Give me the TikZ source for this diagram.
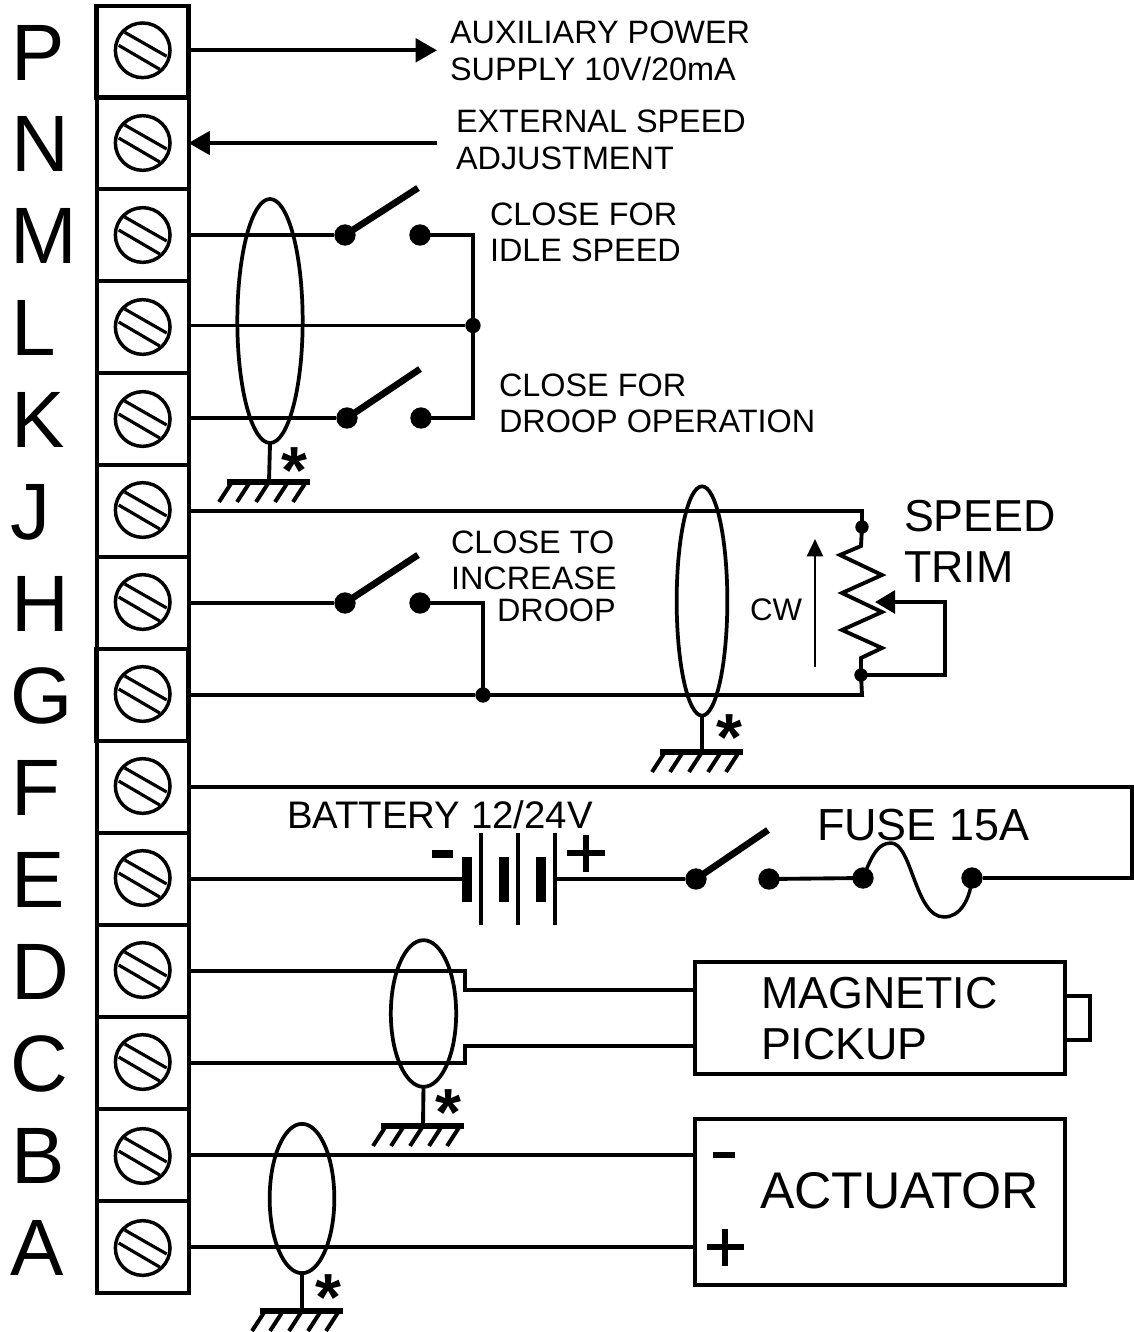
\documentclass[tikz,border=0pt]{standalone}
\usepackage{fontspec}
\setmainfont{Liberation Sans}
\usetikzlibrary{shapes.geometric,arrows.meta,calc}
\tikzset{
  px/.style={x=0.75pt,y=-0.75pt},
  wire/.style={line width=2.9pt,line cap=butt,line join=miter},
  thinw/.style={line width=2.6pt},
  term/.style={draw,line width=3pt,minimum width=69pt,minimum height=69pt,inner sep=0,outer sep=0},
  screw/.style={draw,circle,line width=2.6pt,minimum size=41pt,inner sep=0,outer sep=0},
  hatch/.style={line width=2.4pt},
  bigdot/.style={circle,fill=black,minimum size=16pt,inner sep=0,outer sep=0},
  smalldot/.style={circle,fill=black,minimum size=11.5pt,inner sep=0,outer sep=0},
  tinydot/.style={circle,fill=black,minimum size=10pt,inner sep=0,outer sep=0},
  blade/.style={line width=5pt,line cap=butt},
  shield/.style={draw,ellipse,line width=2.8pt,inner sep=0,outer sep=0},
  lbl/.style={anchor=base west,inner sep=0,outer sep=0,font=\fontsize{24.3}{24.3}\selectfont},
  letter/.style={anchor=base west,inner sep=0,outer sep=0,font=\fontsize{60}{60}\selectfont},
  star/.style={anchor=base,inner sep=0,outer sep=0,font=\fontsize{50}{50}\selectfont\bfseries},
  box/.style={draw,line width=2.9pt,inner sep=0,outer sep=0},
  tip/.style={-{Triangle[length=16pt,width=17.5pt]}},
}
\newcommand{\gndsym}[3]{%
  \coordinate (#1) at (#2,#3);
  \draw[line width=4.6pt] ($(#1)+(-42,0)$) -- ($(#1)+(41,0)$);
  \foreach \dx in {-37,-19,0,19,37}
    \draw[line width=3pt] ($(#1)+(\dx,0)$) -- ($(#1)+(\dx-13,20)$);
}
\begin{document}
\begin{tikzpicture}[px]
\useasboundingbox (0,0) rectangle (1133,1332);
\fill[white] (0,0) rectangle (1133,1332);
% terminals
\foreach \n/\y/\sy/\lx in {P/52/50.3/12,N/143/143/12,M/235/235/11,L/327/327/12,K/419/419/12,J/511/510/11,H/603/602/12,G/695/694/10,F/787/786/12,E/879/878/12,D/971/970/12,C/1063/1062/10,B/1155/1156/12,A/1247/1248/11}{
  \node[term] (t\n) at (142.5,\y) {};
  \node[screw] (s\n) at (142.7,\sy) {};
  \draw[hatch] ($(s\n)+(-18,-18)$) -- ($(s\n)+(24,6)$);
  \draw[hatch] ($(s\n)+(-24,-5)$) -- ($(s\n)+(17,19)$);
  \node[letter] (l\n) at (\lx,\y+28) {\n};
}
\draw[line width=3.6pt] (tP.south west) rectangle (tP.north east);
\draw[line width=3.6pt] (tG.south west) rectangle (tG.north east);
% top arrows
\coordinate (pa) at (437,50.3);
\coordinate (na) at (437,143);
\draw[wire,tip] (tP.east |- pa) -- (pa);
\draw[wire,tip] (na) -- (tN.east);
\node[lbl] (a1) at (450,43) {AUXILIARY POWER};
\node[lbl] (a2) at (450,80) {SUPPLY 10V/20mA};
\node[lbl] (a3) at (456,132) {EXTERNAL SPEED};
\node[lbl] (a4) at (456,169) {ADJUSTMENT};
% switches M K
\node[shield,minimum width=49pt,minimum height=183pt] (e1) at (270,321) {};
\node[bigdot] (ml) at (345,235) {};
\node[bigdot] (mr) at (420,235) {};
\coordinate (mb) at (418,188);
\node[bigdot] (kl) at (347,418) {};
\node[bigdot] (kr) at (421,418) {};
\coordinate (kb) at (420,369);
\node[smalldot] (jl) at (473,325.5) {};
\draw[blade] (ml.center) -- (mb);
\draw[blade] (kl.center) -- (kb);
\draw[wire] (tM.east) -- (ml);
\draw[wire] (tK.east |- kl) -- (kl);
\draw[wire] (tL.east |- jl) -- (jl);
\draw[wire] (mr.center) -| (jl.center);
\draw[wire] (kr.center) -| (jl.center);
\node[lbl] (b1) at (490,225) {CLOSE FOR};
\node[lbl] (b2) at (490,261) {IDLE SPEED};
\node[lbl] (b3) at (499,396) {CLOSE FOR};
\node[lbl] (b4) at (499,432) {DROOP OPERATION};
\gndsym{g1}{269}{482}
\draw[wire] (e1.south) -- (g1);
\node[star] (st1) at (294.5,493) {*};
% J H G
\node[shield,minimum width=38pt,minimum height=172pt] (e2) at (702,601) {};
\node[bigdot] (hl) at (345,603) {};
\node[bigdot] (hr) at (420,603) {};
\coordinate (hb) at (418,555);
\node[smalldot] (jg) at (483,695) {};
\node[tinydot] (rt) at (862,527) {};
\node[tinydot] (rb) at (861,675) {};
\coordinate (wp) at (875,602);
\draw[blade] (hl.center) -- (hb);
\draw[wire] (tH.east) -- (hl);
\draw[wire] (hr.center) -| (jg.center);
\draw[wire] (tG.east) -- (jg);
\draw[wire] (jg.center) -- (862,695) -- (rb.center);
\draw[wire] (tJ.east) -- (862,511) -- (rt.center);
\draw[wire,line join=miter] (rt.center) -- (861,546) -- (840,555) -- (882,575) -- (842,593) -- (882,612) -- (842,630) -- (882,648) -- (861,658) -- (rb.center);
\draw[wire,-{Triangle[length=15pt,width=17pt]}] (rb.center) -- (945,675) -- (945,602) -- (wp);
\coordinate (cwa) at (815,667);
\coordinate (cwb) at (815,539);
\draw[line width=1.9pt,-{Triangle[length=13pt,width=12pt]}] (cwa) -- (cwb);
\node[lbl,font=\fontsize{23.4}{23.4}\selectfont] (cw) at (750,620) {CW};
\node[lbl] (c1) at (451,553) {CLOSE TO};
\node[lbl] (c2) at (451,589) {INCREASE};
\node[lbl] (c3) at (497,621) {DROOP};
\node[lbl,font=\fontsize{33.6}{33.6}\selectfont] (st) at (904,531) {SPEED};
\node[lbl,font=\fontsize{33.6}{33.6}\selectfont] (tr) at (904,582) {TRIM};
\gndsym{g2}{702}{752}
\draw[wire] (e2.south) -- (g2);
\node[star] (st2) at (729.5,760) {*};
% F E battery
\node[bigdot] (el) at (696,879) {};
\node[bigdot] (er) at (769,879) {};
\coordinate (eb) at (768,830);
\node[bigdot] (fl) at (863,878) {};
\node[bigdot] (fr) at (972,878) {};
\coordinate (b1a) at (467,857); \coordinate (b1b) at (467,902);
\coordinate (b2a) at (481,833); \coordinate (b2b) at (481,925);
\coordinate (b3a) at (504,857); \coordinate (b3b) at (504,902);
\coordinate (b4a) at (518,833); \coordinate (b4b) at (518,925);
\coordinate (b5a) at (541,857); \coordinate (b5b) at (541,902);
\coordinate (b6a) at (555,833); \coordinate (b6b) at (555,925);
\draw[line width=6.8pt] (b1a) -- (b1b) (b3a) -- (b3b) (b5a) -- (b5b);
\draw[line width=3pt] (b2a) -- (b2b) (b4a) -- (b4b) (b6a) -- (b6b);
\draw[wire] (tE.east) -- (463,879);
\draw[wire] (555,879) -- (el);
\draw[blade] (el.center) -- (eb);
\draw[wire] (er.center) -- (fl.center);
\draw[thinw] (fl.center) .. controls (872,855) and (878,843) .. (891,843) .. controls (912,843) and (915,917) .. (944,917) .. controls (960,917) and (970,900) .. (fr.center);
\draw[wire] (tF.east) -- (1132,787) -- (1132,878) -- (fr);
\draw[line width=5.5pt] (432,854) -- (453,854);
\draw[line width=5pt] (567,853) -- (605,853) (586,835) -- (586,872);
\node[lbl,font=\fontsize{28.8}{28.8}\selectfont] (bat) at (287,828) {BATTERY 12/24V};
\node[lbl,font=\fontsize{33.7}{33.7}\selectfont] (fu) at (817,840) {FUSE 15A};
% D C magnetic
\node[shield,minimum width=49pt,minimum height=110pt] (e3) at (423.5,1013.5) {};
\node[box,minimum width=277.5pt,minimum height=84pt] (mag) at (880,1018) {};
\draw[wire] (mag.east |- 0,996) -- (1090,996) -- (1090,1040) -- (mag.east |- 0,1040);
\draw[wire] (tD.east) -- (465,971) -- (465,990) -- (mag.west |- 0,990);
\draw[wire] (tC.east) -- (465,1063) -- (465,1046) -- (mag.west |- 0,1046);
\node[lbl,font=\fontsize{33.6}{33.6}\selectfont] (m1) at (761,1008) {MAGNETIC};
\node[lbl,font=\fontsize{33.6}{33.6}\selectfont] (m2) at (761,1059) {PICKUP};
\gndsym{g3}{423}{1126}
\draw[wire] (e3.south) -- (g3);
\node[star] (st3) at (448,1135) {*};
% B A actuator
\node[shield,minimum width=48.5pt,minimum height=112pt] (e4) at (302,1198.5) {};
\node[box,minimum width=277.5pt,minimum height=124.5pt] (act) at (880,1202) {};
\draw[wire] (tB.east) -- (act.west |- tB);
\draw[wire] (tA.east) -- (act.west |- tA);
\draw[line width=4.4pt] (713,1155) -- (735,1155);
\draw[line width=5pt] (707,1247) -- (744,1247) (725,1229) -- (725,1266);
\node[lbl,font=\fontsize{38.7}{38.7}\selectfont] (ac) at (760,1208) {ACTUATOR};
\gndsym{g4}{302}{1311}
\draw[wire] (e4.south) -- (g4);
\node[star] (st4) at (328,1320) {*};
\end{tikzpicture}
\end{document}
